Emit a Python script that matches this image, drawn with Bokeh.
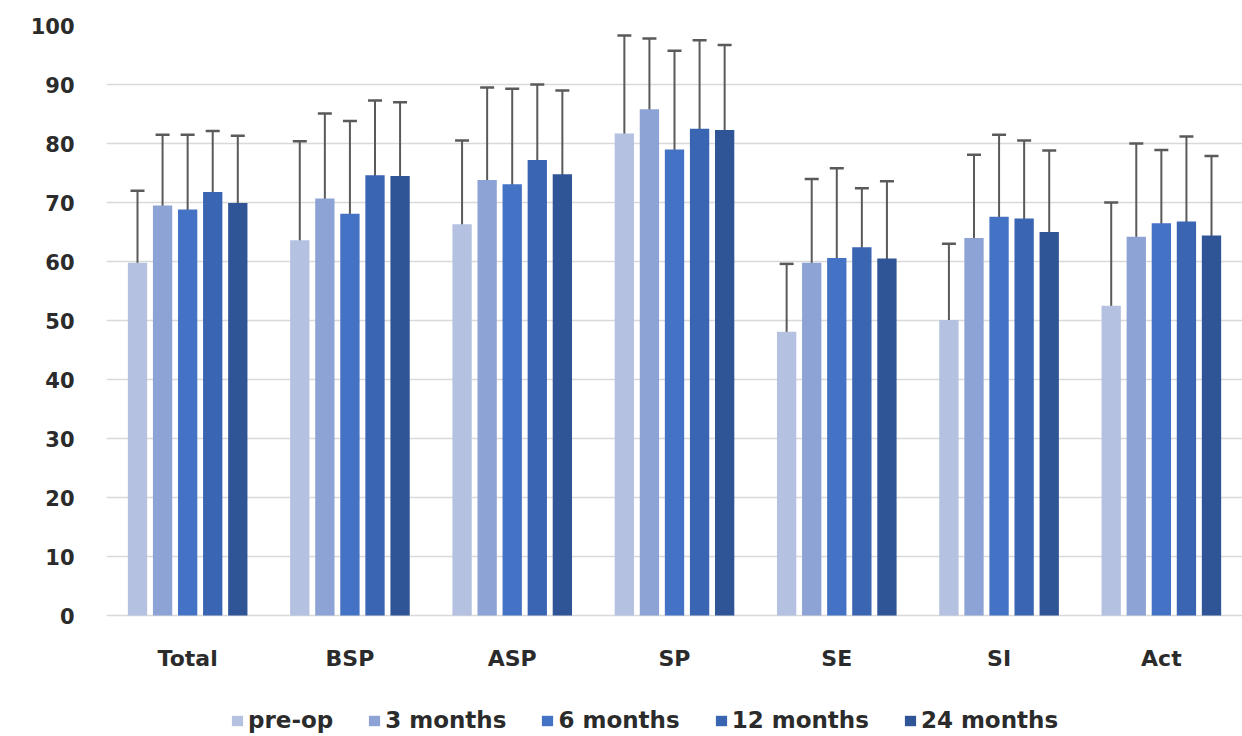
from bokeh.plotting import figure
from bokeh.models import ColumnDataSource, Range1d, FactorRange, Whisker, Legend, LegendItem, TeeHead, FixedTicker
from bokeh.core.properties import value
from bokeh.transform import dodge
from bokeh.embed import file_html
from bokeh.resources import INLINE

categories = ["Total", "BSP", "ASP", "SP", "SE", "SI", "Act"]
series_names = ["pre-op", "3 months", "6 months", "12 months", "24 months"]

pre_op = [59.8, 63.6, 66.3, 81.7, 48.1, 50.1, 52.5]
m3 = [69.5, 70.7, 73.8, 85.8, 59.8, 64.0, 64.2]
m6 = [68.8, 68.1, 73.1, 79.0, 60.6, 67.6, 66.5]
m12 = [71.8, 74.6, 77.2, 82.5, 62.4, 67.3, 66.8]
m24 = [69.9, 74.5, 74.8, 82.3, 60.5, 65.0, 64.4]

sd_pre_op = [12.2, 16.8, 14.2, 16.6, 11.5, 12.9, 17.5]
sd_m3 = [12.0, 14.4, 15.7, 12.0, 14.2, 14.1, 15.8]
sd_m6 = [12.7, 15.7, 16.2, 16.7, 15.2, 13.9, 12.4]
sd_m12 = [10.3, 12.7, 12.8, 15.0, 10.0, 13.2, 14.4]
sd_m24 = [11.4, 12.5, 14.2, 14.4, 13.1, 13.8, 13.5]

y_ticks = [0, 10, 20, 30, 40, 50, 60, 70, 80, 90, 100]

colors = ["#b4c1e0", "#8ea3d5", "#4472c4", "#3a65b2", "#2f5597"]
means = [pre_op, m3, m6, m12, m24]
sds = [sd_pre_op, sd_m3, sd_m6, sd_m12, sd_m24]
offsets = [-0.309, -0.1545, 0.0, 0.1545, 0.309]
TEXT = "#2b2b2b"
FONT = "DejaVu Sans"

# frame runs from the top gridline (100) down to the bottom of the page,
# so that category labels and the legend can sit inside it below the 0 line
p = figure(width=1242, height=736, x_range=FactorRange(*categories), y_range=Range1d(-20.5, 100),
           output_backend="svg", toolbar_location=None,
           min_border_left=106, min_border_right=0, min_border_top=25, min_border_bottom=0)
p.outline_line_color = None

data = {"cat": categories, "base": [0] * len(categories)}
for i in range(5):
    data[f"v{i}"] = means[i]
    data[f"up{i}"] = [m + s for m, s in zip(means[i], sds[i])]
    data[f"lo{i}"] = [m - s for m, s in zip(means[i], sds[i])]
src = ColumnDataSource(data)

items = []
for i in range(5):
    r = p.vbar(x=dodge("cat", offsets[i], range=p.x_range), top=f"v{i}", bottom=0, width=0.119, source=src,
               fill_color=colors[i], line_color=None)
    items.append(LegendItem(label=series_names[i], renderers=[r]))

for i in range(5):
    w = Whisker(source=src, base=dodge("cat", offsets[i], range=p.x_range), upper=f"up{i}", lower=f"lo{i}",
                line_color="#5a5a5a", line_width=2,
                upper_head=TeeHead(size=14, line_color="#5a5a5a", line_width=2.5),
                lower_head=TeeHead(size=14, line_color="#5a5a5a", line_width=2.5))
    p.add_layout(w)

# category labels under the 0 line
p.text(x="cat", y="base", text="cat", source=src, y_offset=43,
       text_align="center", text_baseline="middle",
       text_font=value(FONT), text_font_style="bold", text_font_size="22px", text_color=TEXT)

p.xgrid.grid_line_color = None
p.ygrid.grid_line_color = "#d9d9d9"
p.ygrid.grid_line_width = 1.5
p.yaxis.ticker = FixedTicker(ticks=y_ticks)
p.xaxis.visible = False

p.yaxis.axis_line_color = None
p.yaxis.major_tick_line_color = None
p.yaxis.minor_tick_line_color = None
p.yaxis.major_label_standoff = 26
p.yaxis.major_label_text_font = FONT
p.yaxis.major_label_text_font_style = "bold"
p.yaxis.major_label_text_font_size = "21px"
p.yaxis.major_label_text_color = TEXT

legend = Legend(items=items, orientation="horizontal", location=(124, 3),
                glyph_width=14, glyph_height=13, label_standoff=4, spacing=34,
                label_text_font=FONT, label_text_font_style="bold",
                label_text_font_size="23px", label_text_color=TEXT,
                border_line_color=None, background_fill_alpha=0, margin=0, padding=2)
p.add_layout(legend, "center")

open("out.html", "w").write(file_html(p, INLINE))
